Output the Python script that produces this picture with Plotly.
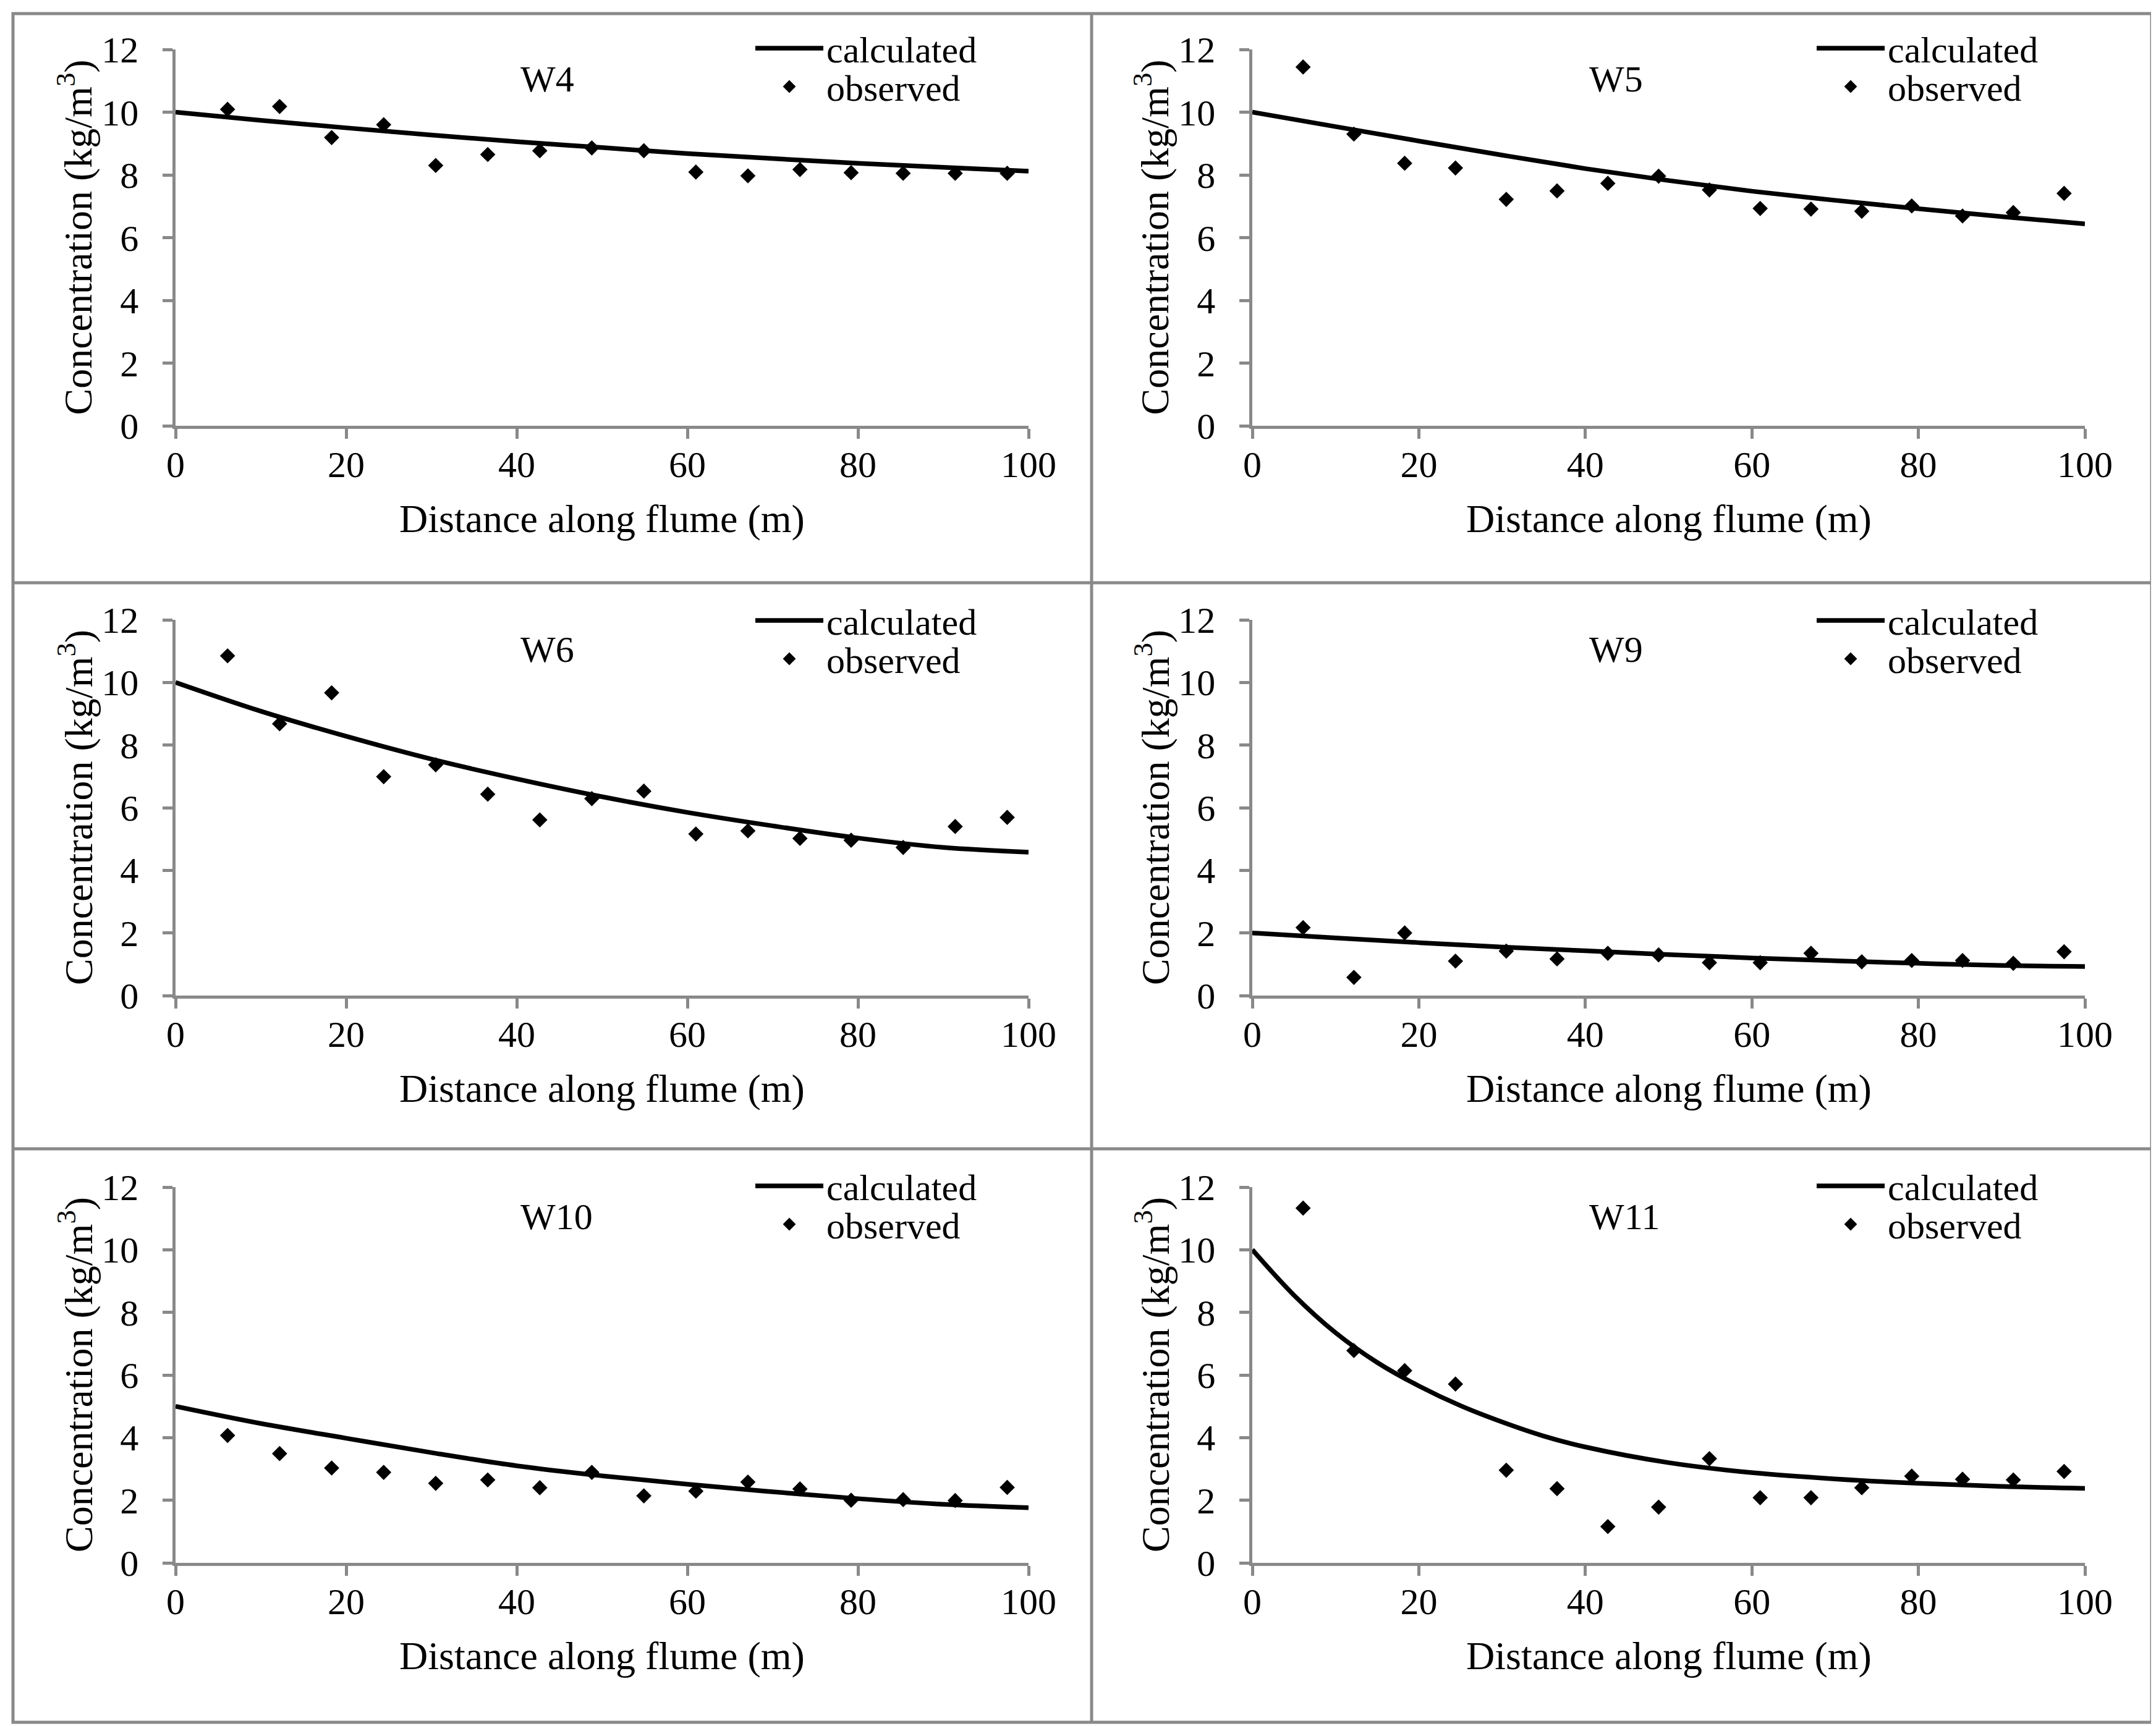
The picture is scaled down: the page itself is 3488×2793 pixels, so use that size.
import plotly.graph_objects as go

W, H = 3488, 2793
FONT = "Liberation Serif, Times New Roman, serif"
GREY = "#898989"

# ---------------- data ----------------
panel_names = ["W4", "W5", "W6", "W9", "W10", "W11"]

dist_obs = [6.1, 12.2, 18.3, 24.4, 30.5, 36.6, 42.7, 48.8,
            54.9, 61.0, 67.1, 73.2, 79.2, 85.3, 91.4, 97.5]

calc_x = [0, 10, 20, 30, 40, 50, 60, 70, 80, 90, 100]
calc_x_w11 = [0, 5, 10, 15, 20, 25, 30, 35, 40, 50, 60, 70, 80, 90, 100]

w4_obs = [10.09, 10.18, 9.19, 9.60, 8.30, 8.65, 8.77, 8.86, 8.77, 8.09, 7.97, 8.17, 8.07, 8.05, 8.05, 8.05]
w5_obs = [11.44, 9.30, 8.37, 8.22, 7.22, 7.49, 7.73, 7.96, 7.52, 6.93, 6.91, 6.84, 7.01, 6.69, 6.80, 7.41]
w6_obs = [10.85, 8.68, 9.67, 6.99, 7.37, 6.43, 5.61, 6.29, 6.53, 5.16, 5.26, 5.02, 4.96, 4.73, 5.40, 5.69]
w9_obs = [2.17, 0.58, 2.00, 1.10, 1.42, 1.17, 1.35, 1.30, 1.05, 1.05, 1.35, 1.08, 1.12, 1.12, 1.03, 1.40]
w10_obs = [4.07, 3.49, 3.03, 2.89, 2.54, 2.65, 2.40, 2.89, 2.14, 2.29, 2.58, 2.36, 2.00, 2.02, 1.99, 2.41]
w11_obs = [11.33, 6.78, 6.14, 5.71, 2.96, 2.37, 1.16, 1.78, 3.33, 2.08, 2.08, 2.40, 2.77, 2.67, 2.65, 2.92]

w4_calc = [10.0, 9.74, 9.50, 9.27, 9.06, 8.87, 8.68, 8.52, 8.37, 8.24, 8.12]
w5_calc = [10.0, 9.54, 9.08, 8.63, 8.20, 7.82, 7.48, 7.19, 6.92, 6.67, 6.44]
w6_calc = [10.0, 9.08, 8.28, 7.55, 6.92, 6.35, 5.85, 5.42, 5.03, 4.73, 4.58]
w9_calc = [2.0, 1.84, 1.69, 1.55, 1.43, 1.31, 1.20, 1.11, 1.03, 0.96, 0.93]
w10_calc = [5.0, 4.45, 3.98, 3.52, 3.10, 2.78, 2.51, 2.27, 2.05, 1.87, 1.76]
w11_calc = [10.0, 8.55, 7.35, 6.40, 5.65, 5.02, 4.50, 4.05, 3.70, 3.20, 2.88, 2.68, 2.54, 2.44, 2.38]

x_ticks = [0, 20, 40, 60, 80, 100]
y_ticks = [0, 2, 4, 6, 8, 10, 12]

obs_series = [w4_obs, w5_obs, w6_obs, w9_obs, w10_obs, w11_obs]
calc_series = [w4_calc, w5_calc, w6_calc, w9_calc, w10_calc, w11_calc]
calc_xs = [calc_x, calc_x, calc_x, calc_x, calc_x, calc_x_w11]

x_title = "Distance along flume (m)"
y_title = "Concentration (kg/m<sup>3</sup>)"

# ---------------- layout geometry (pixels) ----------------
col_px = [(276, 1656), (2018, 3365)]
row_px = [(72, 681), (995, 1603), (1913, 2521)]
legend_text_x = [1338, 3055]
legend_line_y = [70, 996, 1911]
legend_obs_y = [132, 1058, 1973]
ITEMW = 110


def px_x(p):
    return p / W


def px_y(p):
    return 1 - p / H


fig = go.Figure()
layout = dict(
    width=W, height=H,
    margin=dict(l=0, r=0, t=0, b=0, pad=0, autoexpand=False),
    paper_bgcolor="white", plot_bgcolor="white",
    font=dict(family=FONT, size=60, color="black"),
    showlegend=True,
)
annotations = []

axis_common = dict(
    showline=True, linecolor=GREY, linewidth=4.5,
    ticks="outside", ticklen=16, tickwidth=4.5, tickcolor=GREY,
    showgrid=False, zeroline=False, automargin=False,
    tickfont=dict(family=FONT, size=60, color="black"),
)

for k in range(6):
    r, c = k // 2, k % 2
    sfx = "" if k == 0 else str(k + 1)
    x0, x1 = col_px[c]
    y0, y1 = row_px[r]
    layout["xaxis" + sfx] = dict(
        axis_common, domain=[px_x(x0), px_x(x1)], range=[0, 100],
        tickvals=x_ticks, anchor="y" + sfx, ticklabelstandoff=-10,
    )
    layout["yaxis" + sfx] = dict(
        axis_common, domain=[px_y(y1), px_y(y0)], range=[0, 12],
        tickvals=y_ticks, anchor="x" + sfx, ticklabelstandoff=27,
    )
    leg_calc = "legend" if k == 0 else "legend%d" % (2 * k + 1)
    leg_obs = "legend%d" % (2 * k + 2)

    fig.add_trace(go.Scatter(
        x=calc_xs[k], y=calc_series[k], mode="lines", name="calculated",
        line=dict(color="black", width=7.5, shape="spline", smoothing=1.0),
        xaxis="x" + sfx, yaxis="y" + sfx, legend=leg_calc,
        hoverinfo="skip",
    ))
    fig.add_trace(go.Scatter(
        x=dist_obs, y=obs_series[k], mode="markers", name="observed",
        marker=dict(symbol="diamond", size=19, color="black"),
        xaxis="x" + sfx, yaxis="y" + sfx, legend=leg_obs,
    ))

    for name, ypx in ((leg_calc, legend_line_y[r]), (leg_obs, legend_obs_y[r])):
        layout[name] = dict(
            x=px_x(legend_text_x[c] - ITEMW - 19), y=px_y(ypx),
            xref="paper", yref="paper", xanchor="left", yanchor="middle",
            bgcolor="rgba(0,0,0,0)", borderwidth=0, itemwidth=ITEMW,
            font=dict(family=FONT, size=60, color="black"),
            tracegroupgap=0,
        )

    # panel label
    annotations.append(dict(
        x=40.3, y=11.05, xref="x" + sfx, yref="y" + sfx,
        text=panel_names[k], showarrow=False, xanchor="left", yanchor="middle",
        font=dict(family=FONT, size=60, color="black"),
    ))
    # axis titles
    annotations.append(dict(
        x=px_x((x0 + x1) / 2), y=px_y(y1 + 150), xref="paper", yref="paper",
        text=x_title, showarrow=False, xanchor="center", yanchor="middle",
        font=dict(family=FONT, size=64, color="black"),
    ))
    annotations.append(dict(
        x=px_x(x0 - 162), y=px_y((y0 + y1) / 2), xref="paper", yref="paper",
        text=y_title, showarrow=False, xanchor="center", yanchor="middle",
        textangle=-90, font=dict(family=FONT, size=64, color="black"),
    ))

shapes = [
    dict(type="rect", xref="paper", yref="paper",
         x0=px_x(13), x1=px_x(3473), y0=px_y(2779), y1=px_y(14),
         line=dict(color=GREY, width=5)),
    dict(type="line", xref="paper", yref="paper",
         x0=px_x(1758), x1=px_x(1758), y0=px_y(2779), y1=px_y(14),
         line=dict(color=GREY, width=5)),
    dict(type="line", xref="paper", yref="paper",
         x0=px_x(13), x1=px_x(3473), y0=px_y(935), y1=px_y(935),
         line=dict(color=GREY, width=5)),
    dict(type="line", xref="paper", yref="paper",
         x0=px_x(13), x1=px_x(3473), y0=px_y(1851), y1=px_y(1851),
         line=dict(color=GREY, width=5)),
]

layout["annotations"] = annotations
layout["shapes"] = shapes
fig.update_layout(**layout)
fig.write_html("out.html")
